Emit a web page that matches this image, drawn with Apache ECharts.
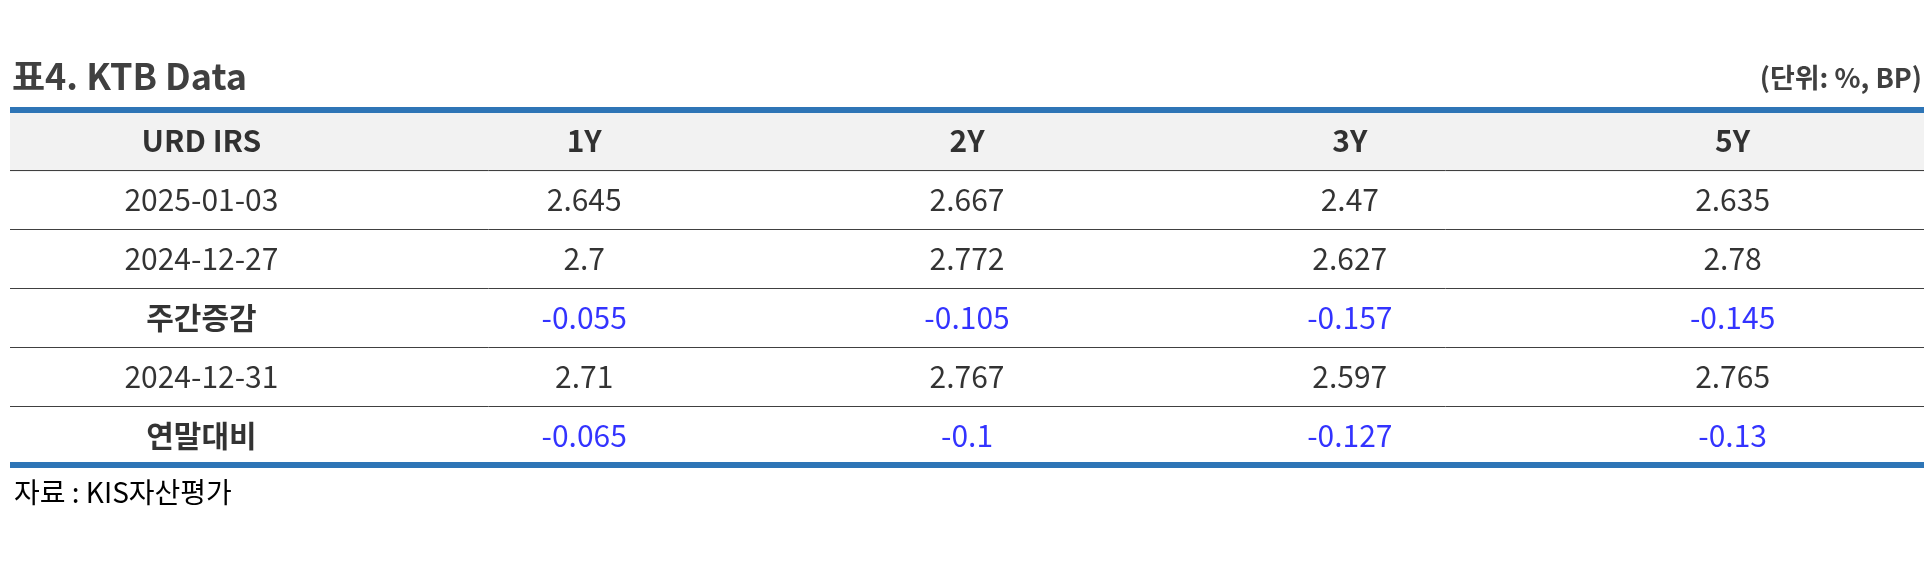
<!DOCTYPE html>
<html><head><meta charset="utf-8">
<script src="https://cdn.jsdelivr.net/npm/echarts@6/dist/echarts.min.js"></script>
<style>html,body{margin:0;padding:0;background:#fff}#c{width:1930px;height:570px}</style>
</head><body><div id="c"></div>
<script>
const columns = ['URD IRS','1Y','2Y','3Y','5Y'];
const rowLabels = ['2025-01-03','2024-12-27','주간증감','2024-12-31','연말대비'];
const row0 = ['2.645','2.667','2.47','2.635'];
const row1 = ['2.7','2.772','2.627','2.78'];
const row2 = ['-0.055','-0.105','-0.157','-0.145'];
const row3 = ['2.71','2.767','2.597','2.765'];
const row4 = ['-0.065','-0.1','-0.127','-0.13'];
const rows = [row0,row1,row2,row3,row4];
const boldRows = [2,4];
const F = '"Noto Sans CJK KR","Noto Sans",sans-serif';
const yCats = ['h','r0','r1','r2','r3','r4'];
const data = [];
columns.forEach((c,i)=>data.push({value:[i,'h'],label:{formatter:c,fontWeight:'bold',color:'#000'}}));
rows.forEach((r,ri)=>{
  const b = boldRows.includes(ri);
  data.push({value:[0,'r'+ri],label:{formatter:rowLabels[ri],fontWeight:b?'bold':'normal',color:'#000'}});
  r.forEach((v,ci)=>data.push({value:[ci+1,'r'+ri],label:{formatter:v,color:b?'#0000FF':'#000'}}));
});
const chart = echarts.init(document.getElementById('c'));
const L=10,R=1924,T=111,B=465;
chart.setOption({
  animation:false,
  grid:{left:L,right:1930-R,top:T,bottom:570-B},
  xAxis:{type:'category',data:[0,1,2,3,4],show:false},
  yAxis:{type:'category',data:yCats,inverse:true,axisLine:{show:false},axisTick:{show:false},axisLabel:{show:false},
    splitLine:{show:true,lineStyle:{color:'#404040',width:1}}},
  graphic:[
    {type:'rect',z:-1,shape:{x:L,y:T,width:R-L,height:61},style:{fill:'#f2f2f2'}},
    {type:'rect',z:5,shape:{x:L,y:T-4,width:R-L,height:6},style:{fill:'#2e75b6'}},
    {type:'rect',z:5,shape:{x:L,y:B-3,width:R-L,height:6},style:{fill:'#2e75b6'}},
    {type:'text',left:12,top:58,style:{text:'표4. KTB Data',font:'bold 36px '+F,fill:'#404040'}},
    {type:'text',right:8,top:64,style:{text:'(단위: %, BP)',font:'bold 27px '+F,fill:'#404040'}},
    {type:'text',left:14,top:478,style:{text:'자료 : KIS자산평가',font:'28px '+F,fill:'#000'}}
  ],
  series:[{type:'scatter',symbolSize:0,data:data,
    label:{show:true,position:'inside',fontSize:30,fontFamily:F}}]
});
</script></body></html>
